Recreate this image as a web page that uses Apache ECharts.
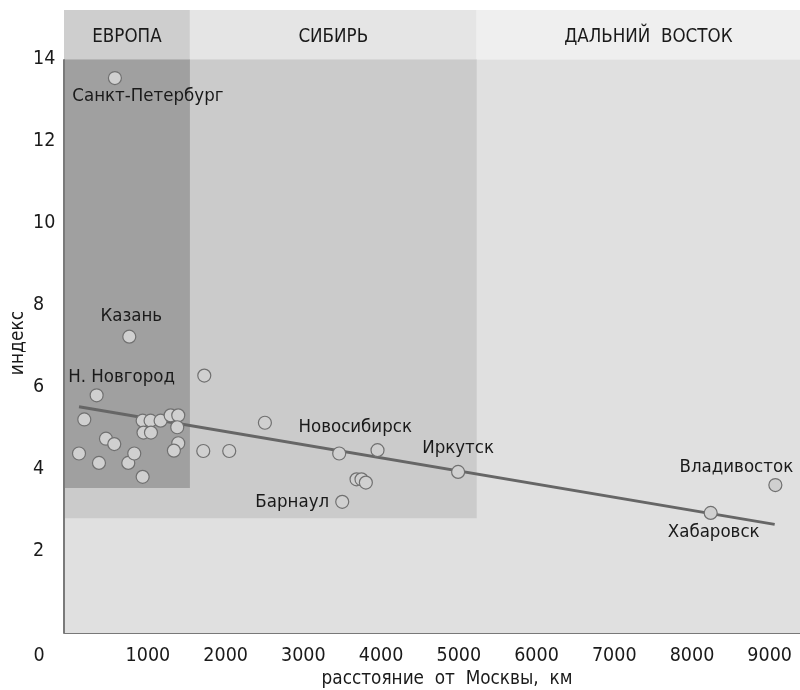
<!DOCTYPE html>
<html>
<head>
<meta charset="utf-8">
<script src="https://cdn.jsdelivr.net/npm/echarts@6/dist/echarts.min.js"></script>
<style>
html,body{margin:0;padding:0;background:#fff;}
#chart{width:800px;height:690px;}
</style>
</head>
<body>
<div id="chart"></div>
<script>
// ---- data ----
const cityNames = ['Санкт-Петербург','Казань','Н. Новгород','Новосибирск','Иркутск','Барнаул','Владивосток','Хабаровск'];
const cityDistance = [575, 760, 340, 3461, 4991, 3500, 9073, 8241];
const cityIndex = [13.54, 7.23, 5.80, 4.38, 3.93, 3.20, 3.61, 2.93];

const otherDistance = [181, 113, 370, 460, 567, 747, 824, 932, 932, 1034, 943, 1039, 1163, 1292, 1390, 1377, 1390, 1334, 1725, 1712, 2046, 2505, 3954, 3684, 3748, 3804];
const otherIndex = [5.21, 4.38, 4.15, 4.74, 4.61, 4.15, 4.38, 3.81, 5.18, 5.18, 4.89, 4.89, 5.18, 5.31, 5.31, 5.02, 4.63, 4.45, 6.28, 4.44, 4.44, 5.13, 4.46, 3.75, 3.75, 3.67];

const trendDistance = [113, 9064];
const trendIndex = [5.52, 2.65];

const regionNames = ['ЕВРОПА', 'СИБИРЬ', 'ДАЛЬНИЙ  ВОСТОК'];
const regionEnd = [1540, 5230, 9390];     // km, right boundary of each region
const regionFloor = [3.54, 2.8, 0];       // index, bottom of each region's box
const xTicks = [1000, 2000, 3000, 4000, 5000, 6000, 7000, 8000, 9000];
const yTicks = [2, 4, 6, 8, 10, 12, 14];

// ---- layout / style ----
const FONT = "'DejaVu Sans Condensed', 'Liberation Sans Narrow', 'Roboto', sans-serif";
const TXT = '#1a1a1a';
const X_MIN = -80, X_MAX = 9390, Y_MAX = 15.2, Y_TOP = 14;
const headerColors = ['#cecece', '#e5e5e5', '#efefef'];
const bodyColors = ['#a0a0a0', '#cbcbcb', '#e0e0e0'];
const headerLabelOffset = [[0, 3], [0, 3], [10, 3]];
const labelOffset = {
  'Санкт-Петербург': [33, 18],
  'Казань': [2, -20],
  'Н. Новгород': [25, -18],
  'Новосибирск': [16, -26],
  'Иркутск': [0, -24],
  'Барнаул': [-50, 0],
  'Владивосток': [-39, -18],
  'Хабаровск': [3, 19]
};

const chart = echarts.init(document.getElementById('chart'), null, {renderer: 'canvas'});

const bodyAreas = [];
for (let i = regionNames.length - 1; i >= 0; i--) {
  bodyAreas.push([
    {xAxis: X_MIN, yAxis: regionFloor[i], itemStyle: {color: bodyColors[i]}},
    {xAxis: regionEnd[i], yAxis: Y_TOP}
  ]);
}
const headerAreas = regionNames.map((n, i) => [
  {
    name: n,
    xAxis: i === 0 ? X_MIN : regionEnd[i - 1],
    yAxis: Y_TOP,
    itemStyle: {color: headerColors[i]},
    label: {offset: headerLabelOffset[i]}
  },
  {xAxis: regionEnd[i], yAxis: Y_MAX}
]);

const cityData = cityNames.map((n, i) => ({
  name: n,
  value: [cityDistance[i], cityIndex[i]],
  label: {show: true, formatter: n, position: 'inside', offset: labelOffset[n]}
}));
const otherData = otherDistance.map((d, i) => [d, otherIndex[i]]);

const pointStyle = {color: '#d0d0d0', borderColor: '#707070', borderWidth: 1.2, opacity: 1};

chart.setOption({
  animation: false,
  backgroundColor: '#ffffff',
  textStyle: {fontFamily: FONT},
  grid: {left: 64, right: 0, top: 10, bottom: 57, containLabel: false},
  xAxis: {
    type: 'value', min: X_MIN, max: X_MAX,
    splitLine: {show: false},
    axisTick: {show: false},
    axisLine: {show: true, onZero: false, lineStyle: {color: '#787878', width: 2}},
    axisLabel: {
      customValues: xTicks, fontSize: 19.5, color: TXT, fontFamily: FONT, margin: 13,
      formatter: v => String(v)
    }
  },
  yAxis: {
    type: 'value', min: 0, max: Y_MAX,
    splitLine: {show: false},
    axisTick: {show: false},
    axisLine: {show: false},
    axisLabel: {
      customValues: yTicks, fontSize: 19.5, color: TXT, fontFamily: FONT, align: 'left', margin: 31,
      formatter: v => String(v)
    }
  },
  graphic: [
    {type: 'text', x: 39, y: 656, style: {text: '0', fontSize: 19.5, fontFamily: FONT, fill: TXT, align: 'center', verticalAlign: 'middle'}},
    {type: 'text', x: 18, y: 343, rotation: Math.PI / 2, style: {text: 'индекс', fontSize: 19, fontFamily: FONT, fill: TXT, align: 'center', verticalAlign: 'middle'}},
    {type: 'text', x: 447, y: 679, style: {text: 'расстояние  от  Москвы,  км', fontSize: 18.8, fontFamily: FONT, fill: TXT, align: 'center', verticalAlign: 'middle'}}
  ],
  series: [
    {
      type: 'scatter', data: [], silent: true, z: 1,
      markArea: {
        silent: true,
        label: {show: false},
        data: bodyAreas
      }
    },
    {
      type: 'scatter', data: [], silent: true, z: 1,
      markArea: {
        silent: true,
        label: {show: true, position: 'inside', fontSize: 18.6, color: TXT, fontFamily: FONT},
        data: headerAreas
      },
      markLine: {
        silent: true, symbol: 'none', animation: false,
        lineStyle: {color: '#7a7a7a', width: 2, type: 'solid'},
        label: {show: false},
        data: [[{coord: [X_MIN, 0]}, {coord: [X_MIN, Y_TOP]}]]
      }
    },
    {
      type: 'line', data: trendDistance.map((d, i) => [d, trendIndex[i]]),
      showSymbol: false, symbol: 'none', z: 3,
      lineStyle: {color: '#666666', width: 3}
    },
    {
      type: 'scatter', data: otherData, symbolSize: 13, z: 4,
      itemStyle: pointStyle
    },
    {
      type: 'scatter', data: cityData, symbolSize: 13, z: 5,
      itemStyle: pointStyle,
      label: {fontSize: 18.5, color: TXT, fontFamily: FONT}
    }
  ]
});
</script>
</body>
</html>
